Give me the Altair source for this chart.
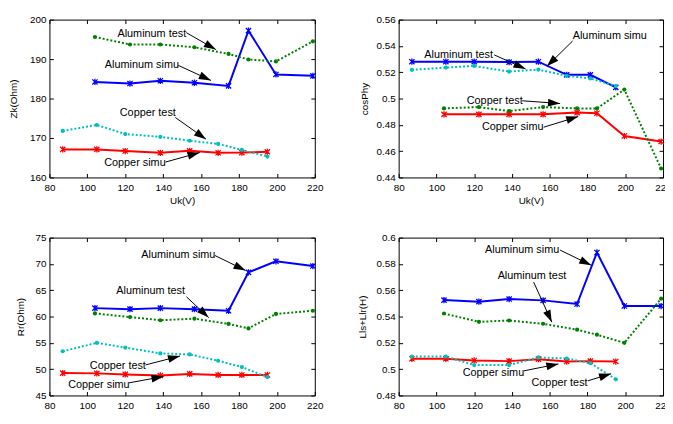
import math
import altair as alt
import pandas as pd

# ---------------- data ----------------
x_cu = [87, 105, 120, 138.5, 154, 169, 181.5, 195]
x_al = [104, 122.5, 138.5, 156.5, 174.5, 185, 199.5, 219]

# Panel 1: Zk(Ohm)
zk_blue = [184.2, 183.8, 184.5, 184.0, 183.2, 197.2, 186.1, 185.75]
zk_green = [195.6, 193.7, 193.7, 193.0, 191.3, 189.9, 189.4, 194.5]
zk_cyan = [171.8, 173.3, 171.0, 170.3, 169.3, 168.5, 167.0, 165.3]
zk_red = [167.1, 167.1, 166.7, 166.25, 166.75, 166.25, 166.3, 166.5]

# Panel 2: cosPhy
cp_blue = [0.528, 0.528, 0.528, 0.5277, 0.528, 0.518, 0.518, 0.5085]
cp_cyan = [0.5218, 0.5235, 0.5248, 0.5205, 0.522, 0.5173, 0.5153, 0.5095]
cp_green = [0.4925, 0.4935, 0.4905, 0.4935, 0.4925, 0.4925, 0.5068, 0.4468]
cp_red = [0.488, 0.488, 0.488, 0.488, 0.4893, 0.4888, 0.4715, 0.4673]

# Panel 3: Rr(Ohm)
rr_blue = [61.6, 61.4, 61.6, 61.4, 61.1, 68.4, 70.5, 69.6]
rr_green = [60.6, 59.9, 59.3, 59.6, 58.6, 57.75, 60.5, 61.1]
rr_cyan = [53.4, 55.0, 54.1, 53.0, 52.8, 51.6, 50.4, 48.5]
rr_red = [49.25, 49.2, 49.0, 48.8, 49.1, 48.9, 48.9, 48.9]

# Panel 4: Lls+Llr(H)
ll_blue = [0.5525, 0.5513, 0.5533, 0.5523, 0.5495, 0.5887, 0.548, 0.548]
ll_green = [0.5423, 0.536, 0.537, 0.5345, 0.530, 0.5262, 0.520, 0.5536]
ll_cyan = [0.5096, 0.5096, 0.5031, 0.5031, 0.5089, 0.5081, 0.5046, 0.4923]
ll_red = [0.5079, 0.5079, 0.5066, 0.5061, 0.5076, 0.5058, 0.5061, 0.5058]

# annotations: panel, text, text x, text y, arrow start x, y, arrow head x, y
ann_rows = [
    (1, "Aluminum test", 134, 196.4, 152.2, 196.7, 167.8, 192.4),
    (1, "Aluminum simu", 128.8, 188.4, 148, 188.4, 165.2, 184.6),
    (1, "Copper test", 131.9, 176.2, 146.4, 175.2, 162.6, 169.7),
    (1, "Copper simu", 125.1, 163.7, 141.2, 163.9, 159.3, 166.3),
    (2, "Aluminum simu", 191.8, 0.5475, 172.1, 0.5437, 158.5, 0.5245),
    (2, "Aluminum test", 111.8, 0.5332, 130.6, 0.5332, 147.2, 0.5225),
    (2, "Copper test", 130.9, 0.4983, 145.4, 0.4983, 165.5, 0.4962),
    (2, "Copper simu", 140.4, 0.478, 156.8, 0.4782, 175.1, 0.4863),
    (3, "Aluminum simu", 148, 71.6, 167.3, 71.6, 183.5, 68.75),
    (3, "Aluminum test", 133.4, 64.9, 152.3, 63.75, 164, 59.8),
    (3, "Copper test", 116.1, 50.56, 130.7, 50.8, 148.9, 52.5),
    (3, "Copper simu", 106.1, 47.0, 122, 47.4, 140.2, 48.6),
    (4, "Aluminum simu", 145.4, 0.5905, 165.5, 0.5905, 182.0, 0.579),
    (4, "Aluminum test", 150.6, 0.5707, 151.5, 0.5662, 161.1, 0.5357),
    (4, "Copper simu", 130.2, 0.4967, 146.3, 0.4987, 164.6, 0.504),
    (4, "Copper test", 165.2, 0.4897, 180.3, 0.4912, 192.5, 0.4965),
]

# ---------------- tables ----------------
series_def = {
    1: [("blue", x_al, zk_blue), ("green", x_al, zk_green), ("cyan", x_cu, zk_cyan), ("red", x_cu, zk_red)],
    2: [("blue", x_cu, cp_blue), ("cyan", x_cu, cp_cyan), ("green", x_al, cp_green), ("red", x_al, cp_red)],
    3: [("blue", x_al, rr_blue), ("green", x_al, rr_green), ("cyan", x_cu, rr_cyan), ("red", x_cu, rr_red)],
    4: [("blue", x_al, ll_blue), ("green", x_al, ll_green), ("cyan", x_cu, ll_cyan), ("red", x_cu, ll_red)],
}
style_of = {"blue": "solid", "red": "solid", "green": "dotted", "cyan": "dotted"}
rows = []
for p, lst in series_def.items():
    for name, xs, ys in lst:
        for i, (xv, yv) in enumerate(zip(xs, ys)):
            rows.append({"panel": p, "series": name, "style": style_of[name], "i": i, "x": xv, "y": yv})
df = pd.DataFrame(rows)

cdomain = ["blue", "green", "cyan", "red"]
crange = ["#0000ff", "#008000", "#00bfbf", "#ff0000"]
cscale = alt.Scale(domain=cdomain, range=crange)

FONT = "Liberation Sans"
XMARK = "M-1,-1L1,1M-1,1L1,-1M0,-1.2L0,1.2"
ARROW = "M0,0L-0.65,2L0.65,2Z"

panels = {
    1: dict(dom=[160, 200], ticks=[160, 170, 180, 190, 200], title="Zk(Ohm)", w=269, tp=11, fmt="d"),
    2: dict(dom=[0.44, 0.56], ticks=[0.44, 0.46, 0.48, 0.5, 0.52, 0.54, 0.56], title="cosPhy", w=268, tp=7, fmt=".2~f"),
    3: dict(dom=[45, 75], ticks=[45, 50, 55, 60, 65, 70, 75], title="Rr(Ohm)", w=269, tp=9.6, fmt="d"),
    4: dict(dom=[0.48, 0.6], ticks=[0.48, 0.5, 0.52, 0.54, 0.56, 0.58, 0.6], title="Lls+Llr(H)", w=268, tp=8.6, fmt=".2~f"),
}
H = 160
XDOM = [80, 220]
XTICKS = list(range(80, 221, 20))


def make_panel(p):
    cfg = panels[p]
    d = df[df.panel == p]
    sx = cfg["w"] / (XDOM[1] - XDOM[0])
    sy = H / (cfg["dom"][1] - cfg["dom"][0])
    arows = []
    for (pp, t, tx, ty, x0, y0, x1, y1) in ann_rows:
        if pp != p:
            continue
        dx = (x1 - x0) * sx
        dy = -(y1 - y0) * sy
        ang = math.degrees(math.atan2(dx, -dy)) % 360
        arows.append({"text": t, "tx": tx, "ty": ty, "x0": x0, "y0": y0, "x1": x1, "y1": y1, "ang": ang})
    a = pd.DataFrame(arows)

    xs = alt.Scale(domain=XDOM, nice=False, zero=False)
    ys = alt.Scale(domain=cfg["dom"], nice=False, zero=False)
    common = dict(domain=False, grid=False, tickSize=4, offset=-4, tickColor="black",
                  tickWidth=1, labelColor="black", titleColor="black",
                  labelFont=FONT, titleFont=FONT, labelFontSize=10, titleFontSize=10,
                  titleFontWeight="normal", labelOverlap=False)
    xaxis = alt.Axis(values=XTICKS, title="Uk(V)", labelPadding=5, titlePadding=3,
                     labelFlush=False, format="d", **common)
    yaxis = alt.Axis(values=cfg["ticks"], title=cfg["title"], format=cfg["fmt"], labelPadding=3.5,
                     titlePadding=cfg["tp"], **common)
    xaxis_top = alt.Axis(values=XTICKS, orient="top", labels=False, title=None, **common)
    yaxis_right = alt.Axis(values=cfg["ticks"], orient="right", labels=False, title=None, **common)

    base = alt.Chart(d)
    col = alt.Color("series:N", scale=cscale, legend=None)

    solid = base.transform_filter(alt.datum.style == "solid").mark_line(strokeWidth=2).encode(
        x=alt.X("x:Q", scale=xs, axis=xaxis), y=alt.Y("y:Q", scale=ys, axis=yaxis),
        color=col, detail="series:N", order="i:Q")
    dotted = base.transform_filter(alt.datum.style == "dotted").mark_line(
        strokeWidth=2, strokeDash=[2, 2]).encode(
        x=alt.X("x:Q", scale=xs, axis=None), y=alt.Y("y:Q", scale=ys, axis=None),
        color=col, detail="series:N", order="i:Q")
    xmarks = base.transform_filter(alt.datum.style == "solid").mark_point(
        shape=XMARK, size=28, filled=False, strokeWidth=1.3, opacity=1).encode(
        x=alt.X("x:Q", scale=xs, axis=None), y=alt.Y("y:Q", scale=ys, axis=None), color=col)
    dots = base.transform_filter(alt.datum.style == "dotted").mark_circle(size=18, opacity=1).encode(
        x=alt.X("x:Q", scale=xs, axis=None), y=alt.Y("y:Q", scale=ys, axis=None), color=col)
    frame = base.mark_point(opacity=0).encode(
        x=alt.X("x:Q", scale=xs, axis=xaxis_top), y=alt.Y("y:Q", scale=ys, axis=yaxis_right))

    abase = alt.Chart(a)
    lines = abase.mark_rule(color="black", strokeWidth=1).encode(
        x=alt.X("x0:Q", scale=xs, axis=None), y=alt.Y("y0:Q", scale=ys, axis=None),
        x2="x1:Q", y2="y1:Q")
    heads = abase.mark_point(shape=ARROW, size=150, filled=True, color="black", opacity=1,
                             strokeWidth=0).encode(
        x=alt.X("x1:Q", scale=xs, axis=None), y=alt.Y("y1:Q", scale=ys, axis=None),
        angle=alt.Angle("ang:Q", scale=None))
    texts = abase.mark_text(font=FONT, fontSize=11, color="black", align="center",
                            baseline="middle").encode(
        x=alt.X("tx:Q", scale=xs, axis=None), y=alt.Y("ty:Q", scale=ys, axis=None), text="text:N")

    return alt.layer(solid, dotted, xmarks, dots, frame, lines, heads, texts).resolve_axis(
        x="independent", y="independent").properties(width=cfg["w"], height=H)


chart = alt.concat(
    make_panel(1), make_panel(2), make_panel(3), make_panel(4),
    columns=2, spacing={"row": 61, "column": 85}, bounds="flush",
).properties(
    padding={"left": 0, "top": 3, "right": -7, "bottom": -14},
    background="white",
).configure_view(stroke="black", strokeWidth=1)

chart.save("out.html", embed_options={"renderer": "svg", "actions": False})
